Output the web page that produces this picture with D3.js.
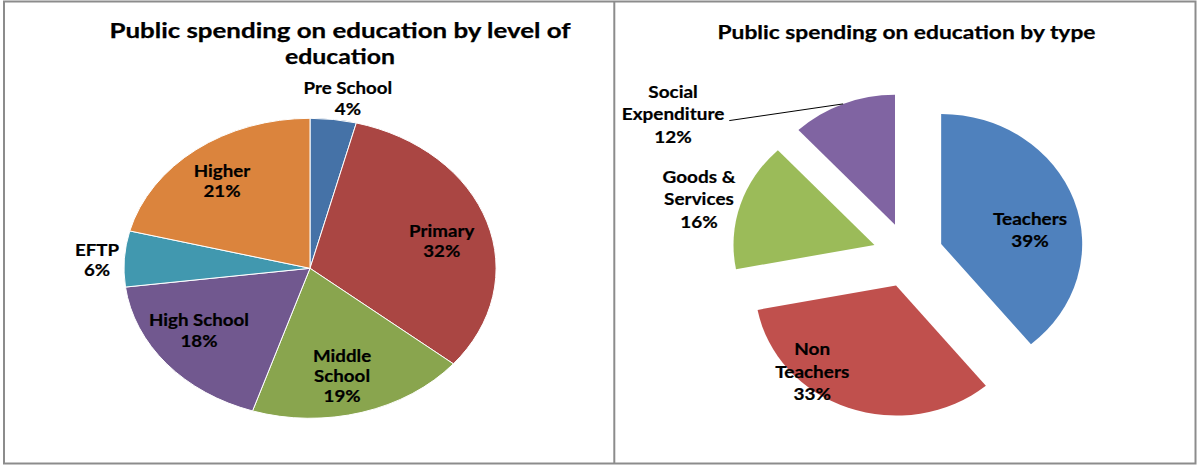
<!DOCTYPE html>
<html>
<head>
<meta charset="utf-8">
<script src="https://cdn.jsdelivr.net/npm/d3@7"></script>
<style>
  html, body { margin: 0; padding: 0; background: #fff; }
  svg { display: block; }
  text { font-family: Lato, "Open Sans", sans-serif; font-weight: 700; fill: #000; }
</style>
</head>
<body>
<svg id="chart" width="1200" height="465"></svg>
<script>
// ---------------- data ----------------
const leftTitle = ["Public spending on education by level of", "education"];
const leftCategories = ["Pre School", "Primary", "Middle School", "High School", "EFTP", "Higher"];
const leftValues = [4, 32, 19, 18, 6, 21];
const leftLabelNames = [["Pre School"], ["Primary"], ["Middle", "School"], ["High School"], ["EFTP"], ["Higher"]];

const rightTitle = ["Public spending on education by type"];
const rightCategories = ["Teachers", "Non Teachers", "Goods & Services", "Social Expenditure"];
const rightValues = [39, 33, 16, 12];
const rightLabelNames = [["Teachers"], ["Non", "Teachers"], ["Goods &", "Services"], ["Social", "Expenditure"]];

// ---------------- styles / layout ----------------
const leftColors = ["#4572A7", "#AA4643", "#89A54E", "#71588F", "#4198AF", "#DB843D"];
const rightColors = ["#4F81BD", "#C0504D", "#9BBB59", "#8064A2"];
// label placement: [angle in degrees clockwise from 12 o'clock, radial fraction]
const leftLabelPlacement = [[10.2, 1.151], [75.6, 0.731], [166.5, 0.738], [235.2, 0.727], [272.75, 1.146], [320.9, 0.75]];
const rightLabelPlacement = [[80.5, 0.639], [221.8, 0.892], [285.7, 1.293], [298.3, 1.788]];

const svg = d3.select("#chart");

// frame
const frame = svg.append("g").attr("fill", "none").attr("stroke", "#8c8c8c").attr("stroke-width", 2);
frame.append("rect").attr("x", 4).attr("y", 1.5).attr("width", 1191.5).attr("height", 462);
frame.append("line").attr("x1", 614.3).attr("x2", 614.3).attr("y1", 1.5).attr("y2", 463.5);

function drawTitle(lines, cx, baselines, lengths, size) {
  lines.forEach((t, i) => {
    svg.append("text")
      .attr("x", cx).attr("y", baselines[i])
      .attr("text-anchor", "middle")
      .attr("font-size", size)
      .attr("textLength", lengths[i])
      .attr("lengthAdjust", "spacingAndGlyphs")
      .attr("stroke", "#000").attr("stroke-width", 0.25)
      .text(t);
  });
}
drawTitle(leftTitle, 340, [37.5, 64], [461, 110], 20);
drawTitle(rightTitle, 906.5, [38.5], [378], 19.5);

// measure helper
function naturalWidth(str, size) {
  const t = svg.append("text").attr("font-size", size).text(str);
  const w = t.node().getComputedTextLength();
  t.remove();
  return w;
}

function drawLabelBlock(g, x, y, lines, size, lineH, sx) {
  const b = g.append("g").attr("transform", `translate(${x},${y}) scale(${sx},1)`);
  const n = lines.length;
  let maxW = 0;
  lines.forEach((t, i) => {
    const tx = b.append("text")
      .attr("x", 0)
      .attr("y", (i - (n - 1) / 2) * lineH + size * 0.36)
      .attr("text-anchor", "middle")
      .attr("font-size", size)
      .attr("stroke", "#000").attr("stroke-width", 0.2)
      .text(t);
    maxW = Math.max(maxW, tx.node().getComputedTextLength() * sx);
  });
  return maxW;
}

const pie = d3.pie().sort(null).value(d => d).startAngle(0).endAngle(2 * Math.PI);
const unitArc = d3.arc().innerRadius(0).outerRadius(1);
const rad = deg => deg * Math.PI / 180;

// ---------------- left pie ----------------
{
  const cx = 310, cy = 268.3, rx = 186, ry = 150;
  const arcs = pie(leftValues);
  const g = svg.append("g");
  const pg = g.append("g").attr("transform", `translate(${cx},${cy}) scale(${rx},${ry})`);
  pg.selectAll("path").data(arcs).join("path")
    .attr("d", unitArc)
    .attr("fill", (d, i) => leftColors[i])
    .attr("stroke", "#fff")
    .attr("stroke-width", 1)
    .attr("vector-effect", "non-scaling-stroke");

  const size = 16.8;
  const sx = 100 / naturalWidth("High School", size);
  arcs.forEach((d, i) => {
    const [ang, f] = leftLabelPlacement[i];
    const x = cx + Math.sin(rad(ang)) * rx * f;
    const y = cy - Math.cos(rad(ang)) * ry * f;
    drawLabelBlock(g, x, y, leftLabelNames[i].concat([leftValues[i] + "%"]), size, 20.3, sx);
  });
}

// ---------------- right pie (exploded) ----------------
{
  const cx = 908, cy = 255, rx = 141, ry = 130, explode = 0.25;
  const arcs = pie(rightValues);
  const g = svg.append("g");
  const apex = arcs.map(d => {
    const m = (d.startAngle + d.endAngle) / 2;
    return [cx + Math.sin(m) * rx * explode, cy - Math.cos(m) * ry * explode];
  });
  g.selectAll("path").data(arcs).join("path")
    .attr("transform", (d, i) => `translate(${apex[i][0]},${apex[i][1]}) scale(${rx},${ry})`)
    .attr("d", unitArc)
    .attr("fill", (d, i) => rightColors[i]);

  const size = 16.3;
  const sx = 102.5 / naturalWidth("Expenditure", size);
  arcs.forEach((d, i) => {
    const [ang, f] = rightLabelPlacement[i];
    const x = apex[i][0] + Math.sin(rad(ang)) * rx * f;
    const y = apex[i][1] - Math.cos(rad(ang)) * ry * f;
    const w = drawLabelBlock(g, x, y, rightLabelNames[i].concat([rightValues[i] + "%"]), size, 22.5, sx);
    if (f > 1.5) {
      // leader line from label to mid-arc of the slice
      const m = (d.startAngle + d.endAngle) / 2;
      const ex = apex[i][0] + Math.sin(m) * rx;
      const ey = apex[i][1] - Math.cos(m) * ry;
      g.append("polyline")
        .attr("points", `${x + w / 2 + 5},${y + 6} ${ex},${ey}`)
        .attr("fill", "none").attr("stroke", "#000").attr("stroke-width", 1);
    }
  });
}
</script>
</body>
</html>
